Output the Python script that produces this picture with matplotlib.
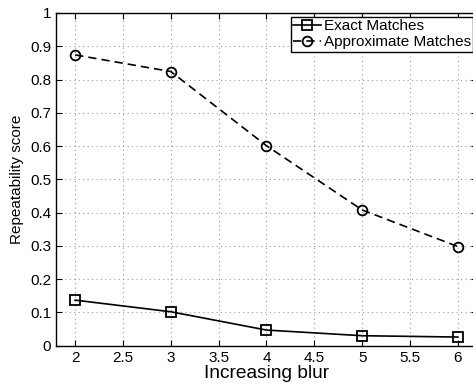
import matplotlib
matplotlib.use('Agg')
import matplotlib.pyplot as plt

# Repeatability vs blur level
blur = [2, 3, 4, 5, 6]
exact = [0.137, 0.102, 0.047, 0.030, 0.026]
approx = [0.874, 0.824, 0.601, 0.408, 0.298]

xticks = [2, 2.5, 3, 3.5, 4, 4.5, 5, 5.5, 6]
yticks = [0, 0.1, 0.2, 0.3, 0.4, 0.5, 0.6, 0.7, 0.8, 0.9, 1]

plt.rcParams['font.family'] = ['Liberation Sans', 'DejaVu Sans']

fig = plt.figure(figsize=(4.73, 3.86), dpi=100)
# axes run slightly past the right edge of the canvas
ax = fig.add_axes([0.1184, 0.1044, 0.890, 0.862])

ax.plot(blur, exact, '-s', color='black', lw=1.2, ms=6.5, mfc='none', mew=1.3,
        label='Exact Matches')
ax.plot(blur, approx, '--o', color='black', lw=1.2, ms=7, mfc='none', mew=1.3,
        dashes=(5, 3), label='Approximate Matches')

ax.set_xlim(1.8, 6.2)
ax.set_ylim(0, 1)
ax.set_xticks(xticks)
ax.set_xticklabels([f'{t:g}' for t in xticks])
ax.set_yticks(yticks)
ax.set_yticklabels([f'{t:g}' for t in yticks])
ax.tick_params(direction='in', top=True, right=True, labelsize=11, length=4, width=0.8)
ax.grid(True, linestyle=(0, (1, 3)), color='#999999', lw=0.8)
for s in ax.spines.values():
    s.set_linewidth(1.0)

ax.set_xlabel('Increasing blur', fontsize=13.8, labelpad=0)
ax.set_ylabel('Repeatability score', fontsize=11, labelpad=4)

leg = ax.legend(loc='upper right', fontsize=11, fancybox=False, framealpha=1,
                edgecolor='black', borderpad=0.15, labelspacing=0.15,
                handlelength=1.8, handletextpad=0.2, borderaxespad=0.25)
leg.get_frame().set_linewidth(1.0)

fig.savefig('out.png', dpi=100)
